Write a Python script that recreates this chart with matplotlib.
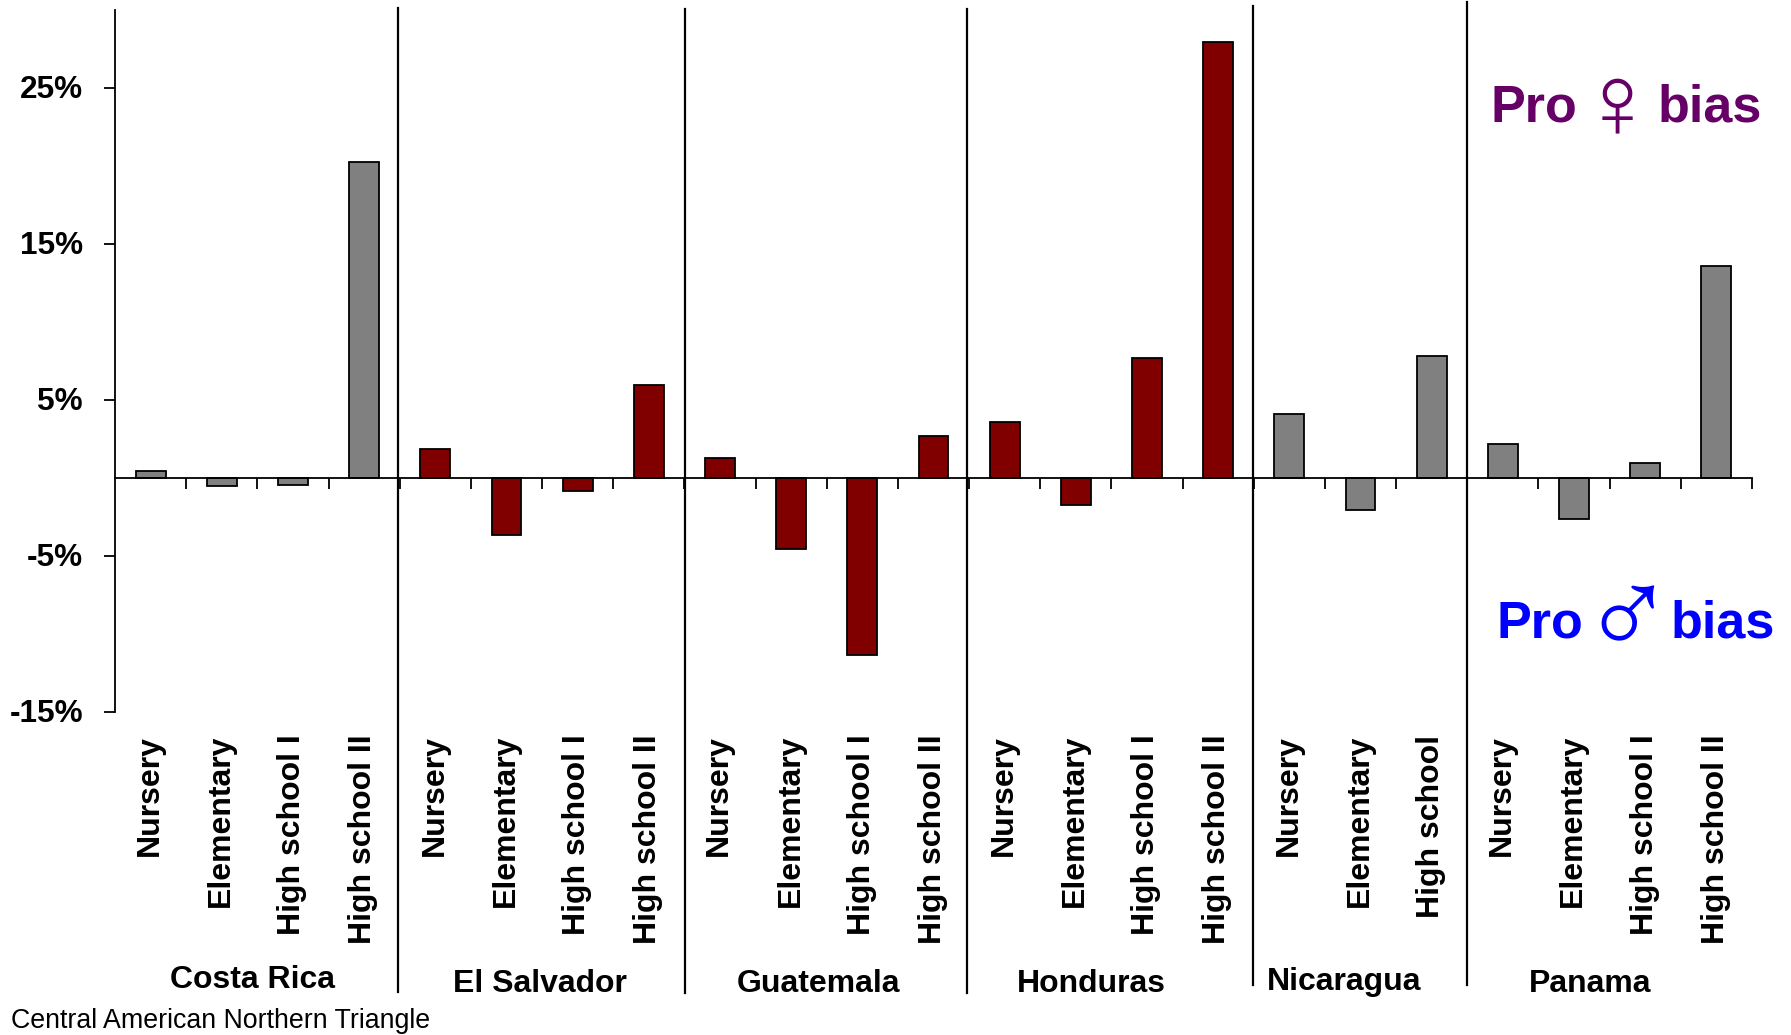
import matplotlib
matplotlib.use("Agg")
import matplotlib.pyplot as plt
from matplotlib.transforms import blended_transform_factory, ScaledTranslation
import numpy as np

W, H = 1791, 1035

countries = ["Costa Rica", "El Salvador", "Guatemala", "Honduras", "Nicaragua", "Panama"]
levels_four = ["Nursery", "Elementary", "High school I", "High school II"]
levels_three = ["Nursery", "Elementary", "High school"]

costa_rica = [0.5, -0.5, -0.4, 20.3]
el_salvador = [1.9, -3.6, -0.8, 6.0]
guatemala = [1.3, -4.5, -11.3, 2.7]
honduras = [3.6, -1.7, 7.7, 27.95]
nicaragua = [4.1, -2.05, 7.85]
panama = [2.2, -2.6, 1.0, 13.6]

y_ticks = [-15, -5, 5, 15, 25]

GRAY = "#808080"
RED = "#800000"
PURPLE = "#660066"
BLUE = "#0000FF"

plt.rcParams["font.family"] = ["Liberation Sans", "DejaVu Sans"]
plt.rcParams["font.weight"] = "bold"


def fx(x):
    return x / W


def fy(y):
    return 1 - y / H


fig = plt.figure(figsize=(W / 100, H / 100), dpi=100)
ax = fig.add_axes([fx(115), fy(712.4), (1752 - 115) / W, (712.4 - 10.4) / H])

groups = [
    (costa_rica, levels_four, GRAY),
    (el_salvador, levels_four, RED),
    (guatemala, levels_four, RED),
    (honduras, levels_four, RED),
    (nicaragua, levels_three, GRAY),
    (panama, levels_four, GRAY),
]

values, labels, colors, edges = [], [], [], []
n = 0
for vals, labs, col in groups:
    values += vals
    labels += labs
    colors += [col] * len(vals)
    n += len(vals)
    edges.append(n)

centers = np.arange(n) + 0.5
ax.bar(centers, values, width=0.42, color=colors, edgecolor="black", linewidth=1.3, zorder=2)

ax.set_xlim(0, n)
ax.set_ylim(-15, 30)

for s in ["top", "right"]:
    ax.spines[s].set_visible(False)
ax.spines["bottom"].set_position(("data", 0))
ax.spines["bottom"].set_linewidth(1.3)
ax.spines["left"].set_linewidth(1.3)
ax.spines["bottom"].set_zorder(3)

ax.set_yticks(y_ticks)
ax.set_yticklabels([f"{v}%" for v in y_ticks], fontsize=22.7, fontweight="bold")
ax.tick_params(axis="y", direction="out", length=8, width=1.3, pad=15)
# labels sit a little above their ticks in the original
nudge = ScaledTranslation(0, 1.5 / 100, fig.dpi_scale_trans)
for lab in ax.get_yticklabels():
    lab.set_transform(lab.get_transform() + nudge)

ax.set_xticks(np.arange(1, n + 1))
ax.set_xticklabels([])
ax.tick_params(axis="x", which="major", direction="out", length=8, width=1.3)
ax.set_xticks(centers - 0.01, minor=True)
ax.set_xticklabels(labels, minor=True, rotation=90, fontsize=23, fontweight="bold", va="top", ha="center")
ax.tick_params(axis="x", which="minor", length=0, pad=184.5)

# separators between the countries, they run past the axes
sep_shift = [-0.03, 0.015, -0.03, -0.015, 0.0]
sep_spans = [(8, 992), (9, 993), (9, 993), (6, 985), (2, 985)]
trans = blended_transform_factory(ax.transData, fig.transFigure)
for e, d, (y0, y1) in zip(edges[:-1], sep_shift, sep_spans):
    ax.plot([e + d, e + d], [fy(y0), fy(y1)], color="black", lw=1.6, transform=trans, clip_on=False, zorder=4)

name_pos = [(252, 980), (540, 984), (818, 984), (1091, 984), (1344, 982), (1590, 984)]
for name, (x, y) in zip(countries, name_pos):
    fig.text(fx(x), fy(y), name, fontsize=23, fontweight="bold", ha="center", va="center")

fig.text(fx(11), fy(1021), "Central American Northern Triangle", fontsize=19.3, fontweight="normal", ha="left", va="center")

fig.text(fx(1491), fy(108.5), "Pro", fontsize=37.5, fontweight="bold", color=PURPLE, ha="left", va="center")
fig.text(fx(1617), fy(110), "\u2640", fontsize=76, fontweight="normal", color=PURPLE, ha="center", va="center")
fig.text(fx(1658), fy(108.5), "bias", fontsize=37.5, fontweight="bold", color=PURPLE, ha="left", va="center")

fig.text(fx(1497), fy(624.5), "Pro", fontsize=37.5, fontweight="bold", color=BLUE, ha="left", va="center")
fig.text(fx(1627), fy(624), "\u2642", fontsize=90, fontweight="normal", color=BLUE, ha="center", va="center")
fig.text(fx(1671), fy(624.5), "bias", fontsize=37.5, fontweight="bold", color=BLUE, ha="left", va="center")

fig.savefig("out.png", dpi=100)
